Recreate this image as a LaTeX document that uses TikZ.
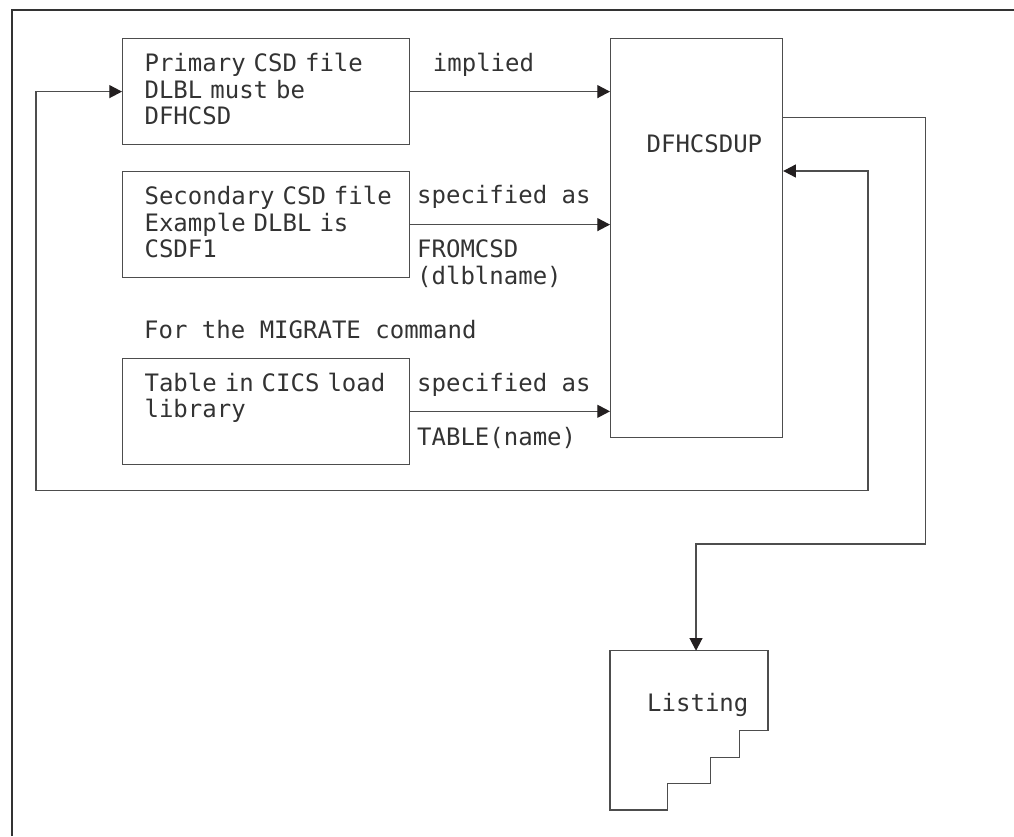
\documentclass[tikz,border=0pt]{standalone}
\usepackage{fontspec}
\usepackage{tikz}
\usetikzlibrary{arrows.meta, positioning}
\newfontfamily\csdfont{DejaVu Sans Mono}
\definecolor{CSD_Line}{HTML}{4D4D4D}
\definecolor{CSD_Text}{HTML}{333333}
\definecolor{CSD_Tip}{HTML}{231F20}

\tikzset{
  csdtext/.style={font=\csdfont\fontsize{24}{26.5}\selectfont, text=CSD_Text, inner sep=0pt, align=left},
  filebox/.style={csdtext, draw=CSD_Line, line width=1.2pt, anchor=north west,
    inner xsep=22pt, inner ysep=15pt, text width=243pt, text height=18pt, text depth=58pt},
  flow/.style={draw=CSD_Line, line width=1.2pt},
  tip/.style={-{Triangle[length=12.7pt, width=13pt, color=CSD_Tip]}},
  twotips/.style={{Triangle[length=12.7pt, width=13pt, color=CSD_Tip]}-{Triangle[length=12.7pt, width=13pt, color=CSD_Tip]}},
}

\begin{document}
\begin{tikzpicture}[x=1pt, y=-1pt]
    \useasboundingbox (0,0) rectangle (1014,836);
    % Frame
    \draw[CSD_Text, line width=1.5pt] (12,836) -- (12,10) -- (1014,10);
    % Input files
    \node[filebox] (primary) at (122,38) {Primary CSD file\\DLBL must be\\DFHCSD};
    \node[filebox] (secondary) at (122,171) {Secondary~CSD~file\\Example DLBL is\\CSDF1};
    \node[csdtext, anchor=base west] (migrate) at (144,338) {For the MIGRATE command};
    \node[filebox] (table) at (122,357.7) {Table~in~CICS~load\\library};
    % Utility program
    \node[csdtext, draw=CSD_Line, line width=1.2pt, anchor=north west, inner xsep=36pt,
      text width=100pt, text height=114pt, text depth=285.3pt] (dfh) at (610,37.7) {DFHCSDUP};
    % Arrow labels
    \node[csdtext, anchor=base west] (implied) at (432.7,71) {implied};
    \node[csdtext, anchor=base west] (specsec) at (417,203.3) {specified as};
    \node[csdtext, anchor=base west, text width=160pt] (fromcsd) at (417,257.7) {FROMCSD\\(dlblname)};
    \node[csdtext, anchor=base west] (spectbl) at (417,391) {specified as};
    \node[csdtext, anchor=base west] (tblname) at (417,445) {TABLE(name)};
    % Inputs to DFHCSDUP
    \draw[flow, tip] (primary.east) -- (primary.east -| dfh.west);
    \draw[flow, tip] (secondary.east) -- (secondary.east -| dfh.west);
    \draw[flow, tip] (table.east) -- (table.east -| dfh.west);
    % Loop back round the inputs
    \coordinate (loopsw) at (36,490.7);
    \coordinate (loopse) at (868,490.7);
    \draw[flow, twotips] (primary.west) -| (loopsw) -- (loopse) |- (dfh.east |- 0,171);
    % Listing output
    \draw[CSD_Line, line width=1.2pt] (610,650.7) -- (768,650.7) -- (768,730.7) -- (739.3,730.7)
      -- (739.3,757.3) -- (710.3,757.3) -- (710.3,783.7) -- (667.3,783.7) -- (667.3,810) -- (610,810) -- cycle;
    \node[csdtext, anchor=base west] (listing) at (647,711.7) {Listing};
    \coordinate (listtop) at (696,650.7);
    \coordinate (outbend) at (925.7,544);
    \draw[flow, tip] (dfh.east |- 0,117.3) -| (outbend) -| (listtop);
\end{tikzpicture}
\end{document}
